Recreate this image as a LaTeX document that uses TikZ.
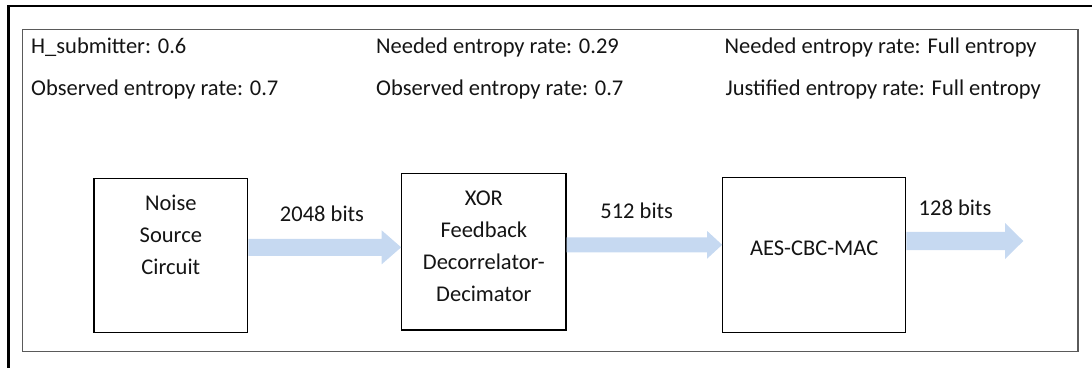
\documentclass[tikz,border=0pt]{standalone}
\usepackage{fontspec}
\setmainfont{Carlito}
\usetikzlibrary{calc}
\definecolor{flowblue}{RGB}{198,217,241}
\definecolor{framegray}{RGB}{90,90,90}
\definecolor{inkc}{RGB}{20,20,20}
\newcommand\blockarrow[5]{%
  \fill[flow] let \p1=(#1), \p2=(#2) in
    (\x1,\y1+#3) -- (\x2-#5,\y1+#3) -- (\x2-#5,\y1+#4) -- (\x2,\y1)
    -- (\x2-#5,\y1-#4) -- (\x2-#5,\y1-#3) -- (\x1,\y1-#3) -- cycle;}
\begin{document}
\begin{tikzpicture}[x=1pt,y=-1pt,
  txt/.style={inner sep=0pt, text=inkc, font=\fontsize{22.5}{32}\selectfont},
  boxtxt/.style={txt, align=center, anchor=base},
  blk/.style={draw=black, line width=1.1pt, inner sep=0pt},
  flow/.style={fill=flowblue}]
\useasboundingbox (0,0) rectangle (1092,368);
% outer frame (partial)
\draw[line width=2.6pt, black] (7,6) -- (1092,6);
\draw[line width=2.6pt, black] (8.3,6) -- (8.3,368);
% inner frame
\draw[line width=1.4pt, draw=framegray] (22.7,29.3) rectangle (1078,351.3);
% top texts
\node[txt, anchor=base west] (hs) at (31,53.3) {H\_submitter: 0.6};
\node[txt, anchor=base west] (oe1) at (31,95) {Observed entropy rate: 0.7};
\node[txt, anchor=base west] (ne2) at (376,53.3) {Needed entropy rate: 0.29};
\node[txt, anchor=base west] (oe2) at (376,95) {Observed entropy rate: 0.7};
\node[txt, anchor=base west] (ne3) at (724.5,53.3) {Needed entropy rate: Full entropy};
\node[txt, anchor=base west] (je3) at (725.5,95) {Justified entropy rate: Full entropy};
% boxes
\node[blk, minimum width=153.7pt, minimum height=154.4pt] (noise) at (170.85,255.5) {};
\node[blk, minimum width=164.3pt, minimum height=156.7pt] (xor) at (483.85,251.65) {};
\node[blk, minimum width=183pt, minimum height=155.4pt] (aes) at (814.2,255) {};
\node[boxtxt] (noiset) at (170.85,274.3) {Noise\\Source\\Circuit};
\node[boxtxt] (xort) at (483.85,301.7) {XOR\\Feedback\\Decorrelator-\\Decimator};
\node[boxtxt] (aest) at (814.2,255.7) {AES-CBC-MAC};
% arrow levels
\coordinate (lv1) at (0,247.3);
\coordinate (lv2) at (0,244.8);
\coordinate (lv3) at (0,241);
\coordinate (outtip) at (1023.3,241);
\blockarrow{noise.east |- lv1}{xor.west |- lv1}{8.5pt}{17pt}{19.5pt}
\blockarrow{xor.east |- lv2}{aes.west |- lv2}{7.5pt}{13.8pt}{15pt}
\blockarrow{aes.east |- lv3}{outtip}{9.2pt}{18pt}{18.3pt}
% arrow labels
\node[txt, anchor=base] (l1) at (322,221) {2048 bits};
\node[txt, anchor=base] (l2) at (636.7,218.3) {512 bits};
\node[txt, anchor=base] (l3) at (955,215) {128 bits};
\end{tikzpicture}
\end{document}
